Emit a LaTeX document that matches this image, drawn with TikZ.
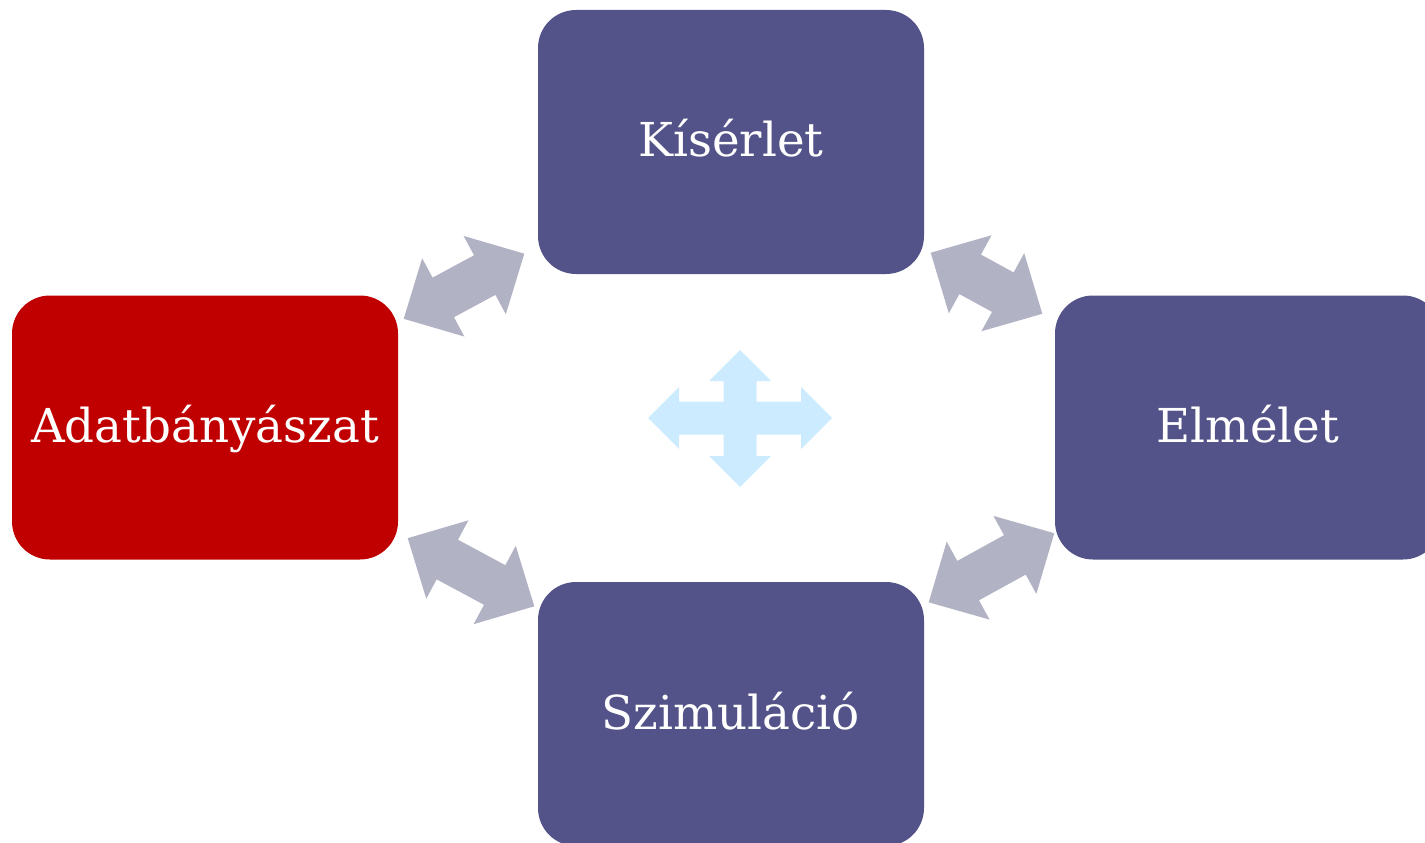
\documentclass[tikz,border=0pt]{standalone}
\usepackage{fontspec}
\setmainfont{DejaVu Serif}
\usetikzlibrary{calc}
\definecolor{dobozkek}{HTML}{535389}
\definecolor{dobozpiros}{HTML}{C00000}
\definecolor{nyilszurke}{HTML}{B2B2C5}
\definecolor{halvanykek}{HTML}{CCEBFF}
\tikzset{
  doboz/.style={rounded corners=0.38cm, minimum width=3.86cm, minimum height=2.64cm, inner sep=0pt, text=white, text height=0.4cm, text depth=0.1cm, font=\fontsize{13.3}{15}\selectfont},
  %kettos nyil: fejhossz, fej fele, szar fele
  nyil/.style n args={3}{to path={
    ($(\tikztostart)!#1!(\tikztotarget)$) coordinate (n1)
    ($(\tikztotarget)!#1!(\tikztostart)$) coordinate (n2)
    (\tikztostart) -- ($(n1)!#2!90:(\tikztotarget)$) -- ($(n1)!#3!90:(\tikztotarget)$)
    -- ($(n2)!#3!90:(\tikztotarget)$) -- ($(n2)!#2!90:(\tikztotarget)$) -- (\tikztotarget)
    -- ($(n2)!#2!-90:(\tikztotarget)$) -- ($(n2)!#3!-90:(\tikztotarget)$)
    -- ($(n1)!#3!-90:(\tikztotarget)$) -- ($(n1)!#2!-90:(\tikztotarget)$) -- cycle}},
  kapcsolat/.style={fill=nyilszurke, nyil={4.5mm}{4.45mm}{2.25mm}},
  kereszt/.style={fill=halvanykek, nyil={3.1mm}{3.1mm}{1.65mm}}
}

\begin{document}
\begin{tikzpicture}
\clip (0,0) rectangle (14.25,-8.43);

%Dobozok
\node[doboz, fill=dobozkek] (kiserlet) at (7.31,-1.42) {Kísérlet};
\node[doboz, fill=dobozpiros] (adat) at (2.05,-4.275) {Adatbányászat};
\node[doboz, fill=dobozkek] (elmelet) at (12.48,-4.275) {Elmélet};
\node[doboz, fill=dobozkek] (szimulacio) at (7.31,-7.14) {Szimuláció};

%Nyilak vegpontjai
\coordinate (ak) at ([shift={(0.05,-0.24)}]adat.north east);
\coordinate (ka) at ([shift={(-0.13,0.21)}]kiserlet.south west);
\coordinate (ke) at ([shift={(0.06,0.22)}]kiserlet.south east);
\coordinate (ek) at ([shift={(-0.12,-0.19)}]elmelet.north west);
\coordinate (as) at ([shift={(0.09,0.22)}]adat.south east);
\coordinate (sa) at ([shift={(-0.03,-0.25)}]szimulacio.north west);
\coordinate (es) at ([shift={(0,0.27)}]elmelet.south west);
\coordinate (se) at ([shift={(0.04,-0.21)}]szimulacio.north east);

%Nyilak
\fill[kapcsolat] (ak) to (ka);
\fill[kapcsolat] (ke) to (ek);
\fill[kapcsolat] (as) to (sa);
\fill[kapcsolat] (es) to (se);

%Kozep
\coordinate (kozep) at (7.40,-4.18);
\coordinate (bal) at ([xshift=-0.92cm]kozep);
\coordinate (jobb) at ([xshift=0.92cm]kozep);
\coordinate (fent) at ([yshift=0.68cm]kozep);
\coordinate (lent) at ([yshift=-0.69cm]kozep);
\fill[kereszt] (bal) to (jobb);
\fill[kereszt] (fent) to (lent);

\end{tikzpicture}
\end{document}
